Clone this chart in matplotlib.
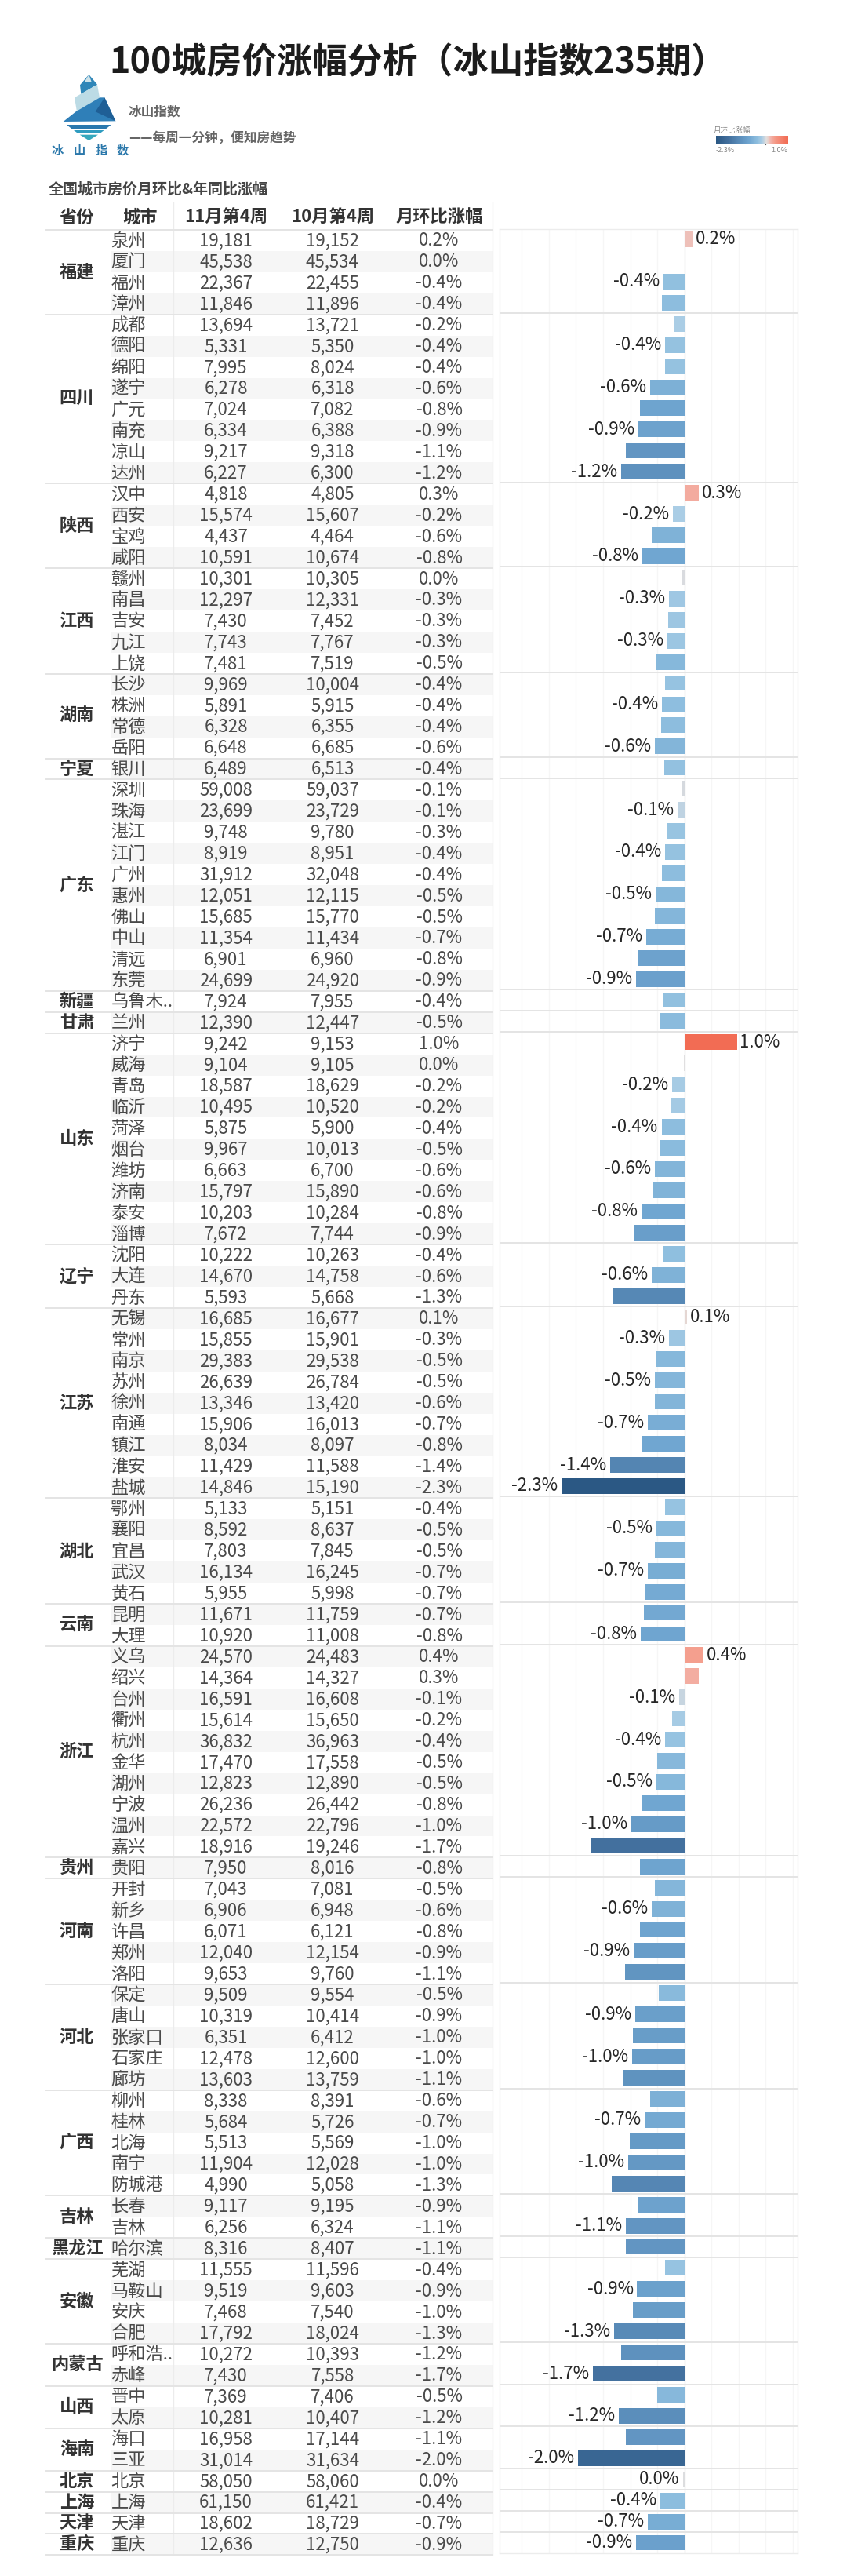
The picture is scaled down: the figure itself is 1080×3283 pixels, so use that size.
import matplotlib
matplotlib.use("Agg")
import matplotlib.pyplot as plt
from matplotlib.colors import LinearSegmentedColormap, Normalize
from matplotlib.patches import Polygon
import numpy as np

plt.rcParams['font.family'] = ['Noto Sans CJK SC', 'DejaVu Sans']

W, H = 1080, 3283

provinces = ['福建', '四川', '陕西', '江西', '湖南', '宁夏', '广东', '新疆', '甘肃', '山东', '辽宁', '江苏',
             '湖北', '云南', '浙江', '贵州', '河南', '河北', '广西', '吉林', '黑龙江', '安徽', '内蒙古',
             '山西', '海南', '北京', '上海', '天津', '重庆']
province_sizes = [4, 8, 4, 5, 4, 1, 10, 1, 1, 10, 3, 9, 5, 2, 10, 1, 5, 5, 5, 2, 1, 4, 2, 2, 2, 1, 1, 1, 1]

cities = ['泉州', '厦门', '福州', '漳州',
          '成都', '德阳', '绵阳', '遂宁', '广元', '南充', '凉山', '达州',
          '汉中', '西安', '宝鸡', '咸阳',
          '赣州', '南昌', '吉安', '九江', '上饶',
          '长沙', '株洲', '常德', '岳阳',
          '银川',
          '深圳', '珠海', '湛江', '江门', '广州', '惠州', '佛山', '中山', '清远', '东莞',
          '乌鲁木..', '兰州',
          '济宁', '威海', '青岛', '临沂', '菏泽', '烟台', '潍坊', '济南', '泰安', '淄博',
          '沈阳', '大连', '丹东',
          '无锡', '常州', '南京', '苏州', '徐州', '南通', '镇江', '淮安', '盐城',
          '鄂州', '襄阳', '宜昌', '武汉', '黄石',
          '昆明', '大理',
          '义乌', '绍兴', '台州', '衢州', '杭州', '金华', '湖州', '宁波', '温州', '嘉兴',
          '贵阳',
          '开封', '新乡', '许昌', '郑州', '洛阳',
          '保定', '唐山', '张家口', '石家庄', '廊坊',
          '柳州', '桂林', '北海', '南宁', '防城港',
          '长春', '吉林', '哈尔滨',
          '芜湖', '马鞍山', '安庆', '合肥',
          '呼和浩..', '赤峰', '晋中', '太原', '海口', '三亚',
          '北京', '上海', '天津', '重庆']

price_nov = [19181, 45538, 22367, 11846,
             13694, 5331, 7995, 6278, 7024, 6334, 9217, 6227,
             4818, 15574, 4437, 10591,
             10301, 12297, 7430, 7743, 7481,
             9969, 5891, 6328, 6648,
             6489,
             59008, 23699, 9748, 8919, 31912, 12051, 15685, 11354, 6901, 24699,
             7924, 12390,
             9242, 9104, 18587, 10495, 5875, 9967, 6663, 15797, 10203, 7672,
             10222, 14670, 5593,
             16685, 15855, 29383, 26639, 13346, 15906, 8034, 11429, 14846,
             5133, 8592, 7803, 16134, 5955,
             11671, 10920,
             24570, 14364, 16591, 15614, 36832, 17470, 12823, 26236, 22572, 18916,
             7950,
             7043, 6906, 6071, 12040, 9653,
             9509, 10319, 6351, 12478, 13603,
             8338, 5684, 5513, 11904, 4990,
             9117, 6256, 8316,
             11555, 9519, 7468, 17792,
             10272, 7430, 7369, 10281, 16958, 31014,
             58050, 61150, 18602, 12636]

price_oct = [19152, 45534, 22455, 11896,
             13721, 5350, 8024, 6318, 7082, 6388, 9318, 6300,
             4805, 15607, 4464, 10674,
             10305, 12331, 7452, 7767, 7519,
             10004, 5915, 6355, 6685,
             6513,
             59037, 23729, 9780, 8951, 32048, 12115, 15770, 11434, 6960, 24920,
             7955, 12447,
             9153, 9105, 18629, 10520, 5900, 10013, 6700, 15890, 10284, 7744,
             10263, 14758, 5668,
             16677, 15901, 29538, 26784, 13420, 16013, 8097, 11588, 15190,
             5151, 8637, 7845, 16245, 5998,
             11759, 11008,
             24483, 14327, 16608, 15650, 36963, 17558, 12890, 26442, 22796, 19246,
             8016,
             7081, 6948, 6121, 12154, 9760,
             9554, 10414, 6412, 12600, 13759,
             8391, 5726, 5569, 12028, 5058,
             9195, 6324, 8407,
             11596, 9603, 7540, 18024,
             10393, 7558, 7406, 10407, 17144, 31634,
             58060, 61421, 18729, 12750]

mom_label = ['0.2%', '0.0%', '-0.4%', '-0.4%',
             '-0.2%', '-0.4%', '-0.4%', '-0.6%', '-0.8%', '-0.9%', '-1.1%', '-1.2%',
             '0.3%', '-0.2%', '-0.6%', '-0.8%',
             '0.0%', '-0.3%', '-0.3%', '-0.3%', '-0.5%',
             '-0.4%', '-0.4%', '-0.4%', '-0.6%',
             '-0.4%',
             '-0.1%', '-0.1%', '-0.3%', '-0.4%', '-0.4%', '-0.5%', '-0.5%', '-0.7%', '-0.8%', '-0.9%',
             '-0.4%', '-0.5%',
             '1.0%', '0.0%', '-0.2%', '-0.2%', '-0.4%', '-0.5%', '-0.6%', '-0.6%', '-0.8%', '-0.9%',
             '-0.4%', '-0.6%', '-1.3%',
             '0.1%', '-0.3%', '-0.5%', '-0.5%', '-0.6%', '-0.7%', '-0.8%', '-1.4%', '-2.3%',
             '-0.4%', '-0.5%', '-0.5%', '-0.7%', '-0.7%',
             '-0.7%', '-0.8%',
             '0.4%', '0.3%', '-0.1%', '-0.2%', '-0.4%', '-0.5%', '-0.5%', '-0.8%', '-1.0%', '-1.7%',
             '-0.8%',
             '-0.5%', '-0.6%', '-0.8%', '-0.9%', '-1.1%',
             '-0.5%', '-0.9%', '-1.0%', '-1.0%', '-1.1%',
             '-0.6%', '-0.7%', '-1.0%', '-1.0%', '-1.3%',
             '-0.9%', '-1.1%', '-1.1%',
             '-0.4%', '-0.9%', '-1.0%', '-1.3%',
             '-1.2%', '-1.7%', '-0.5%', '-1.2%', '-1.1%', '-2.0%',
             '0.0%', '-0.4%', '-0.7%', '-0.9%']

# bar lengths, finer than the printed labels
mom_bar = [0.15, 0.01, -0.39, -0.42,
           -0.20, -0.36, -0.36, -0.63, -0.82, -0.85, -1.08, -1.16,
           0.27, -0.21, -0.60, -0.78,
           -0.04, -0.28, -0.30, -0.31, -0.51,
           -0.35, -0.41, -0.43, -0.55,
           -0.37,
           -0.05, -0.13, -0.33, -0.36, -0.42, -0.53, -0.54, -0.70, -0.85, -0.89,
           -0.39, -0.46,
           0.97, -0.01, -0.23, -0.24, -0.42, -0.46, -0.55, -0.59, -0.79, -0.93,
           -0.40, -0.60, -1.32,
           0.05, -0.29, -0.52, -0.54, -0.55, -0.67, -0.78, -1.37, -2.27,
           -0.35, -0.52, -0.54, -0.68, -0.72,
           -0.75, -0.80,
           0.36, 0.26, -0.10, -0.23, -0.35, -0.50, -0.52, -0.78, -0.98, -1.72,
           -0.82,
           -0.54, -0.60, -0.82, -0.94, -1.10,
           -0.47, -0.91, -0.95, -0.97, -1.13,
           -0.63, -0.73, -1.01, -1.03, -1.34,
           -0.85, -1.08, -1.08,
           -0.35, -0.87, -0.95, -1.29,
           -1.16, -1.69, -0.50, -1.21, -1.08, -1.96,
           -0.02, -0.44, -0.68, -0.89]

# rows whose bar carries a label in the original
labelled_cities = ['泉州', '福州', '德阳', '遂宁', '南充', '达州', '汉中', '西安', '咸阳', '南昌', '九江',
                   '株洲', '岳阳', '珠海', '江门', '惠州', '中山', '东莞', '济宁', '青岛', '菏泽', '潍坊',
                   '泰安', '大连', '无锡', '常州', '苏州', '南通', '淮安', '盐城', '襄阳', '武汉', '大理',
                   '义乌', '台州', '杭州', '湖州', '温州', '新乡', '郑州', '唐山', '石家庄', '桂林', '南宁',
                   '吉林', '马鞍山', '合肥', '赤峰', '太原', '三亚', '北京', '上海', '天津', '重庆']

columns = ['省份', '城市', '11月第4周', '10月第4周', '月环比涨幅']

n = len(cities)
row_top = 293.0
row_h = 26.94

cmap_nodes = [(-2.3, '#2a5783'), (-1.7, '#44719f'), (-1.2, '#5c8fbc'), (-0.8, '#6fa5d0'),
              (-0.4, '#8fbfdf'), (-0.2, '#aacde5'), (-0.05, '#d5d9de'), (0.0, '#e2e0e0'),
              (0.1, '#e8cfc9'), (0.2, '#f2b5ad'), (0.4, '#f59a88'), (1.0, '#f26a52')]
norm = Normalize(-2.3, 1.0)
cmap = LinearSegmentedColormap.from_list('mom', [(norm(v), c) for v, c in cmap_nodes])

fig = plt.figure(figsize=(W / 100, H / 100), dpi=100, facecolor='white')

# whole page in pixel coordinates for the table and header
page = fig.add_axes([0, 0, 1, 1])
page.set_xlim(0, W)
page.set_ylim(H, 0)
page.axis('off')

page.text(139.5, 80, '100城房价涨幅分析（冰山指数235期）', fontsize=32.3, fontweight='bold',
          color='#1c1c1c', va='center', ha='left')

# logo
def logo_poly(points, color):
    pts = [(50 + x / 3, 85 + y / 3) for x, y in points]
    page.add_patch(Polygon(pts, closed=True, facecolor=color, edgecolor='none'))

logo_poly([(190, 30), (222, 68), (160, 105), (156, 70)], '#2f86b8')
logo_poly([(190, 30), (200, 58), (172, 60)], '#cfe3ea')
logo_poly([(222, 68), (232, 125), (145, 178), (135, 118)], '#bcdbe5')
logo_poly([(232, 118), (250, 118), (292, 208), (92, 210), (140, 172)], '#2f7fb8')
logo_poly([(250, 118), (292, 208), (215, 172)], '#1f5f96')
logo_poly([(105, 222), (275, 222), (255, 238), (125, 238)], '#2a78ae')
logo_poly([(132, 243), (248, 243), (232, 255), (148, 255)], '#2f9cc0')
logo_poly([(155, 260), (225, 260), (190, 282)], '#35a8bd')

for x, ch in zip([72.7, 101.7, 129, 156.7], '冰山指数'):
    page.text(x, 191.7, ch, fontsize=11, fontweight='bold', color='#2b78ab', ha='center', va='center')

page.text(164, 142.5, '冰山指数', fontsize=12, color='#666666', va='center', ha='left', fontweight='bold')
page.text(164, 176.5, '——每周一分钟，便知房趋势', fontsize=12, color='#666666', va='center', ha='left', fontweight='bold')

page.text(61.5, 241.5, '全国城市房价月环比&年同比涨幅', fontsize=13.7, fontweight='bold', color='#444444',
          va='center', ha='left')

# table bands and rules
table_left, table_right, city_rule = 58.5, 628.0, 221.0
for i in range(n):
    if i % 2 == 1:
        page.fill_between([141, table_right], row_top + i * row_h, row_top + (i + 1) * row_h,
                          color='#f6f6f6', lw=0, zorder=0)
page.plot([city_rule, city_rule], [258, row_top + n * row_h], color='#ececec', lw=1, zorder=1)
page.plot([table_right, table_right], [258, row_top + n * row_h], color='#ececec', lw=1, zorder=1)

col_x = [98, 141.5, 288, 424, 560]
for j, name in enumerate(columns):
    hx = col_x[j] if j != 1 else 179
    page.text(hx, 277, name, fontsize=16, fontweight='bold', color='#333333', ha='center', va='center')

edges = np.concatenate([[0], np.cumsum(province_sizes)])
for k, name in enumerate(provinces):
    y0 = row_top + edges[k] * row_h
    y1 = row_top + edges[k + 1] * row_h
    page.plot([table_left, table_right], [y0, y0], color='#e4e4e4', lw=1.4, zorder=1)
    page.text(col_x[0], (y0 + y1) / 2, name, fontsize=16, fontweight='bold', color='#333333',
              ha='center', va='center')
page.plot([table_left, table_right], [row_top + n * row_h] * 2, color='#e4e4e4', lw=1.4, zorder=1)

for i in range(n):
    yc = row_top + (i + 0.5) * row_h + 0.5
    page.text(col_x[1], yc, cities[i], fontsize=16, color='#4a4a4a', ha='left', va='center')
    page.text(col_x[2], yc, f'{price_nov[i]:,}', fontsize=16, color='#4a4a4a', ha='center', va='center')
    page.text(col_x[3], yc, f'{price_oct[i]:,}', fontsize=16, color='#4a4a4a', ha='center', va='center')
    page.text(col_x[4], yc, mom_label[i], fontsize=16, color='#4a4a4a', ha='center', va='center')

# bar panel
px_left, px_right, px_top, px_bottom = 637.0, 1017.0, 291.5, 3254.0
bar_ax = fig.add_axes([px_left / W, 1 - px_bottom / H, (px_right - px_left) / W, (px_bottom - px_top) / H])
bar_ax.set_xlim(-3.41, 2.09)
bar_ax.set_ylim(109.5, -0.5)
bar_ax.patch.set_alpha(0)
for s in bar_ax.spines.values():
    s.set_color('#ececec')
    s.set_linewidth(1)
bar_ax.set_xticks([])
bar_ax.set_yticks([])

for gx in np.arange(-3, 2.01, 0.5):
    bar_ax.axvline(gx, color='#e2e2e2' if gx == 0 else '#f6f6f6', lw=1, zorder=0)
for e in edges[1:-1]:
    bar_ax.axhline(e - 0.5, color='#e4e4e4', lw=1.4, zorder=1)

y_pos = np.arange(n)
bar_ax.barh(y_pos, mom_bar, height=0.74, color=cmap(norm(mom_bar)), zorder=2)

for i in range(n):
    if cities[i] in labelled_cities:
        v = mom_bar[i]
        bar_ax.annotate(mom_label[i], (v, i), xytext=(2.5 if v >= 0 else -3.5, 0), textcoords='offset points',
                        fontsize=16, color='#262626', ha='left' if v >= 0 else 'right', va='center', zorder=3)

# colour legend
page.text(910, 166, '月环比涨幅', fontsize=6.8, color='#888888', ha='left', va='center')
leg_ax = fig.add_axes([912.7 / W, 1 - 183.3 / H, 91.6 / W, 10 / H])
leg_ax.imshow(np.linspace(-2.3, 1.0, 256)[None, :], aspect='auto', cmap=cmap, norm=norm)
leg_ax.axis('off')
page.plot([976, 976], [180, 184], color='#555555', lw=0.8)
page.text(913, 191.5, '-2.3%', fontsize=6.5, color='#888888', ha='left', va='center')
page.text(1004, 191.5, '1.0%', fontsize=6.5, color='#888888', ha='right', va='center')

fig.savefig('out.png', dpi=100, facecolor='white')
